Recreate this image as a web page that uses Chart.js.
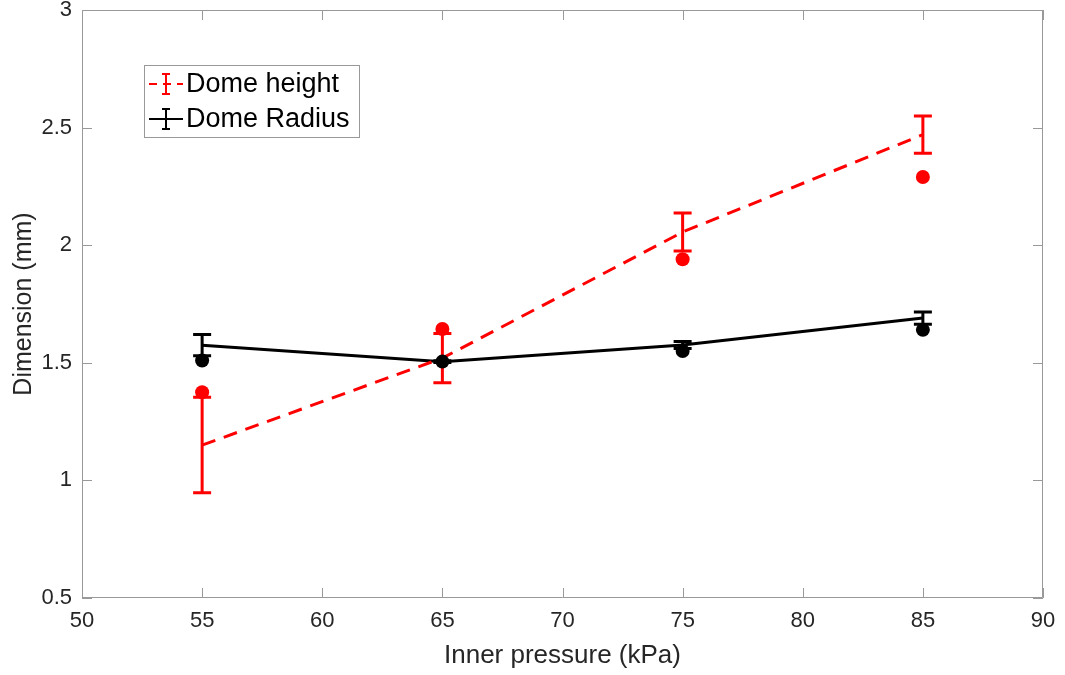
<!DOCTYPE html>
<html>
<head>
<meta charset="utf-8">
<script src="https://cdn.jsdelivr.net/npm/chart.js@4/dist/chart.umd.min.js"></script>
<style>
  html, body { margin: 0; background: #fff; }
</style>
</head>
<body>
<canvas id="dome-chart" width="1065" height="675"></canvas>
<script>
// values
const pressures = [55, 65, 75, 85];
const heightMean = [1.15, 1.52, 2.056, 2.47];
const heightErr = [0.203, 0.105, 0.081, 0.079];
const heightMeasured = [1.375, 1.644, 1.94, 2.29];
const radiusMean = [1.575, 1.505, 1.576, 1.69];
const radiusErr = [0.045, 0.004, 0.015, 0.026];
const radiusMeasured = [1.51, 1.505, 1.55, 1.64];
const xTicks = [50, 55, 60, 65, 70, 75, 80, 85, 90];
const yTicks = [0.5, 1, 1.5, 2, 2.5, 3];

const RED = '#ff0000';
const BLACK = '#000000';
const AXIS = '#999999';
const FONT = "'Liberation Sans', Arial, sans-serif";

const toPoints = (ys) => pressures.map((x, i) => ({ x: x, y: ys[i] }));

// error bars + matlab-style box, inward ticks and legend
const matlabBits = {
  id: 'matlabBits',
  beforeDatasetsDraw(chart) {
    const { ctx, scales: { x, y } } = chart;
    const bars = [
      { mean: heightMean, err: heightErr, color: RED },
      { mean: radiusMean, err: radiusErr, color: BLACK }
    ];
    ctx.save();
    ctx.lineWidth = 3;
    bars.forEach(b => {
      ctx.strokeStyle = b.color;
      pressures.forEach((p, i) => {
        const px = x.getPixelForValue(p);
        const top = y.getPixelForValue(b.mean[i] + b.err[i]);
        const bot = y.getPixelForValue(b.mean[i] - b.err[i]);
        ctx.beginPath();
        ctx.moveTo(px, top); ctx.lineTo(px, bot);
        ctx.moveTo(px - 9, top); ctx.lineTo(px + 9, top);
        ctx.moveTo(px - 9, bot); ctx.lineTo(px + 9, bot);
        ctx.stroke();
      });
    });
    ctx.restore();
  },
  afterDraw(chart) {
    const { ctx, chartArea: a, scales: { x, y } } = chart;
    ctx.save();
    ctx.strokeStyle = AXIS;
    ctx.lineWidth = 1;
    ctx.beginPath();
    ctx.rect(a.left + 0.5, a.top + 0.5, a.right - a.left - 1, a.bottom - a.top - 1);
    xTicks.forEach(t => {
      const px = Math.round(x.getPixelForValue(t)) + 0.5;
      ctx.moveTo(px, a.bottom); ctx.lineTo(px, a.bottom - 10);
      ctx.moveTo(px, a.top); ctx.lineTo(px, a.top + 10);
    });
    yTicks.forEach(t => {
      const py = Math.round(y.getPixelForValue(t)) + 0.5;
      ctx.moveTo(a.left, py); ctx.lineTo(a.left + 10, py);
      ctx.moveTo(a.right, py); ctx.lineTo(a.right - 10, py);
    });
    ctx.stroke();

    // legend
    const lx = 144.5, ly = 65.5, lw = 215, lh = 72;
    ctx.fillStyle = '#fff';
    ctx.fillRect(lx, ly, lw, lh);
    ctx.strokeStyle = AXIS;
    ctx.strokeRect(lx, ly, lw, lh);
    const entries = [
      { label: 'Dome height', color: RED, dash: [8, 6], yc: 84 },
      { label: 'Dome Radius', color: BLACK, dash: [], yc: 119 }
    ];
    ctx.font = '27px ' + FONT;
    ctx.textBaseline = 'middle';
    entries.forEach(e => {
      ctx.strokeStyle = e.color;
      ctx.lineWidth = 2;
      ctx.setLineDash(e.dash);
      ctx.beginPath();
      ctx.moveTo(149, e.yc); ctx.lineTo(183, e.yc);
      ctx.stroke();
      ctx.setLineDash([]);
      ctx.beginPath();
      ctx.moveTo(166, e.yc - 10); ctx.lineTo(166, e.yc + 10);
      ctx.moveTo(162, e.yc - 10); ctx.lineTo(170, e.yc - 10);
      ctx.moveTo(162, e.yc + 10); ctx.lineTo(170, e.yc + 10);
      ctx.stroke();
      ctx.fillStyle = '#000';
      ctx.fillText(e.label, 186, e.yc + 1);
    });
    ctx.restore();
  }
};

const ctx = document.getElementById('dome-chart').getContext('2d');
new Chart(ctx, {
  type: 'scatter',
  data: {
    datasets: [
      {
        label: 'Dome height measured',
        data: toPoints(heightMeasured),
        backgroundColor: RED,
        borderColor: RED,
        pointRadius: 7,
        pointBorderWidth: 0
      },
      {
        label: 'Dome Radius measured',
        data: toPoints(radiusMeasured),
        backgroundColor: BLACK,
        borderColor: BLACK,
        pointRadius: 7,
        pointBorderWidth: 0
      },
      {
        label: 'Dome height',
        data: toPoints(heightMean),
        showLine: true,
        borderColor: RED,
        borderWidth: 3,
        borderDash: [14, 9],
        pointRadius: 0
      },
      {
        label: 'Dome Radius',
        data: toPoints(radiusMean),
        showLine: true,
        borderColor: BLACK,
        borderWidth: 3,
        pointRadius: 0
      }
    ]
  },
  options: {
    responsive: false,
    animation: false,
    layout: { padding: { top: 10, right: 22, left: 0, bottom: 0 } },
    plugins: {
      legend: { display: false },
      tooltip: { enabled: false }
    },
    scales: {
      x: {
        type: 'linear',
        min: 50,
        max: 90,
        afterBuildTicks: (s) => { s.ticks = xTicks.map(v => ({ value: v })); },
        afterFit: (s) => { s.height = 77; s.paddingLeft = 0; s.paddingRight = 0; },
        grid: { display: false, drawTicks: false },
        border: { display: false },
        ticks: {
          color: '#262626',
          padding: 10,
          maxRotation: 0,
          font: { family: FONT, size: 22 },
          callback: (v) => String(v)
        },
        title: {
          display: true,
          text: 'Inner pressure (kPa)',
          color: '#262626',
          font: { family: FONT, size: 26 },
          padding: { top: 0, bottom: 4 }
        }
      },
      y: {
        type: 'linear',
        min: 0.5,
        max: 3,
        afterBuildTicks: (s) => { s.ticks = yTicks.map(v => ({ value: v })); },
        afterFit: (s) => { s.width = 82; s.paddingTop = 0; s.paddingBottom = 0; },
        grid: { display: false, drawTicks: false },
        border: { display: false },
        ticks: {
          color: '#262626',
          padding: 10,
          font: { family: FONT, size: 22 },
          callback: (v) => String(v)
        },
        title: {
          display: true,
          text: 'Dimension (mm)',
          color: '#262626',
          font: { family: FONT, size: 25 },
          padding: { top: 9, bottom: 0 }
        }
      }
    }
  },
  plugins: [matlabBits]
});
</script>
</body>
</html>
